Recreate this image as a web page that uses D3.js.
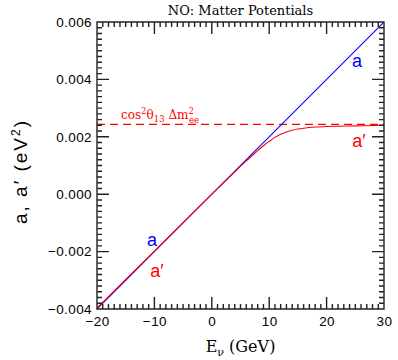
<!DOCTYPE html>
<html><head><meta charset="utf-8">
<script src="https://cdn.jsdelivr.net/npm/d3@7/dist/d3.min.js"></script>
<style>
html,body{margin:0;padding:0;background:#fff;}
svg{display:block;}
</style>
</head><body>
<svg id="chart" width="398" height="360"></svg>
<script>
// ---- data ----
const title = "NO: Matter Potentials";
const xTicks = [-20, -10, 0, 10, 20, 30];
const yTicks = [-0.004, -0.002, 0.000, 0.002, 0.004, 0.006];
const aEnergy = [-20, 30];
const aValues = [-0.004, 0.006];
const aPrimeEnergy = [-20, -15, -10, -5, 0, 2, 4, 6, 7, 8, 9, 10, 11, 12, 13, 14, 15, 16, 18, 20, 22, 25, 30];
const aPrimeValues = [-0.00397, -0.00297, -0.00198, -0.00099, 0, 0.00039, 0.00078, 0.00116, 0.00134, 0.00152, 0.00169, 0.00184, 0.00198, 0.00209, 0.00217, 0.00223, 0.00227, 0.00230, 0.00234, 0.00236, 0.00237, 0.00238, 0.00240];
const plateauValue = 0.00243;

// ---- layout ----
const W = 398, H = 360;
const m = {left: 97, right: 14, top: 22, bottom: 51};
const svg = d3.select("#chart");
const x = d3.scaleLinear().domain([-20, 30]).range([m.left, W - m.right]);
const y = d3.scaleLinear().domain([-0.004, 0.006]).range([H - m.bottom, m.top]);
const pL = m.left, pR = W - m.right, pB = H - m.bottom, pT = m.top;
const frameColor = "#222";
const sans = "'Liberation Sans', Arial, sans-serif";
const serif = "'DejaVu Serif', serif";

const xMinor = d3.range(-20, 30.001, 1);
const yMinor = d3.range(-0.004, 0.00601, 0.0002);

// tick labels via d3 axes
function styleAxis(g) {
  g.select(".domain").remove();
  g.selectAll(".tick line").remove();
  g.selectAll(".tick text").attr("font-family", sans).attr("font-size", 13.5)
    .attr("letter-spacing", 0.4).style("fill", "#000");
}
svg.append("g").attr("transform", `translate(0,${pB})`)
  .call(d3.axisBottom(x).tickValues(xTicks).tickSize(0).tickPadding(7).tickFormat(d3.format("d")))
  .call(styleAxis);
svg.append("g").attr("transform", `translate(${pL},0)`)
  .call(d3.axisLeft(y).tickValues(yTicks).tickSize(0).tickPadding(5).tickFormat(d3.format(".3f")))
  .call(styleAxis);

// clip
svg.append("clipPath").attr("id", "plotclip").append("rect")
  .attr("x", pL).attr("y", pT).attr("width", pR - pL).attr("height", pB - pT);
const plot = svg.append("g").attr("clip-path", "url(#plotclip)");

// dashed plateau
plot.append("line").attr("x1", pL).attr("x2", pR).attr("y1", y(plateauValue)).attr("y2", y(plateauValue))
  .style("stroke", "#ff0000").style("stroke-width", "1.3px").style("stroke-dasharray", "8,5");

// a (blue)
const lineGen = d3.line().curve(d3.curveMonotoneX);
plot.append("path").attr("d", lineGen(aEnergy.map((e, i) => [x(e), y(aValues[i])])))
  .style("fill", "none").style("stroke", "#0000ff").style("stroke-width", "1.1px");
// a' (red)
plot.append("path").attr("d", lineGen(aPrimeEnergy.map((e, i) => [x(e), y(aPrimeValues[i])])))
  .style("fill", "none").style("stroke", "#ff0000").style("stroke-width", "1.1px");

// inward tick marks on all four sides, as one combined path
const tp = d3.path();
function addX(vals, len) {
  vals.forEach(d => {
    const xx = x(d);
    tp.moveTo(xx, pB); tp.lineTo(xx, pB - len);
    tp.moveTo(xx, pT); tp.lineTo(xx, pT + len);
  });
}
function addY(vals, len) {
  vals.forEach(d => {
    const yy = y(d);
    tp.moveTo(pL, yy); tp.lineTo(pL + len, yy);
    tp.moveTo(pR, yy); tp.lineTo(pR - len, yy);
  });
}
addX(xMinor, 5);
addX(xTicks, 12);
addY(yMinor, 5);
addY(yTicks, 12);
// frame outline added to same path
tp.rect(pL, pT, pR - pL, pB - pT);
svg.append("path").attr("d", tp.toString())
  .style("fill", "none").style("stroke", frameColor).style("stroke-width", "1.4px");

// curve labels
function lab(txt, px, py, color) {
  svg.append("text").attr("x", px).attr("y", py).attr("font-family", sans).attr("font-size", 18)
    .style("fill", color).attr("text-anchor", "middle").text(txt);
}
lab("a", 357, 67, "#0000ff");
lab("a′", 359, 147, "#ff0000");
lab("a", 152, 246, "#0000ff");
lab("a′", 157, 277, "#ff0000");

// plateau label
const pl = svg.append("text").attr("x", 121).attr("y", 119).attr("font-family", serif)
  .attr("font-size", 12).style("fill", "#ff0000");
pl.append("tspan").text("cos");
pl.append("tspan").attr("font-size", 8.5).attr("dy", -5).text("2");
pl.append("tspan").attr("dy", 5).text("θ");
pl.append("tspan").attr("font-size", 8.5).attr("dy", 3).text("13");
pl.append("tspan").attr("dy", -3).text(" Δm");
pl.append("tspan").attr("font-size", 8.5).attr("dy", -5).text("2");
pl.append("tspan").attr("font-size", 8.5).attr("dx", -5).attr("dy", 9).text("ee");

// title
svg.append("text").attr("x", (pL + pR) / 2).attr("y", 15).attr("text-anchor", "middle")
  .attr("font-family", serif).attr("font-size", 13).style("fill", "#000").text(title);

// x label
const xl = svg.append("text").attr("x", (pL + pR) / 2).attr("y", 352).attr("text-anchor", "middle")
  .attr("font-family", serif).attr("font-size", 16).style("fill", "#000");
xl.append("tspan").text("E");
xl.append("tspan").attr("font-size", 11).attr("dy", 4).text("ν");
xl.append("tspan").attr("dy", -4).text(" (GeV)");

// y label
const yl = svg.append("text").attr("transform", `translate(27,${(pB + pT) / 2 + 6}) rotate(-90)`)
  .attr("text-anchor", "middle").attr("font-family", sans).attr("font-size", 19)
  .attr("letter-spacing", 2).style("fill", "#000");
yl.append("tspan").text("a, a′ (eV");
yl.append("tspan").attr("font-size", 12).attr("dy", -7).text("2");
yl.append("tspan").attr("dy", 7).text(")");
</script>
</body></html>
